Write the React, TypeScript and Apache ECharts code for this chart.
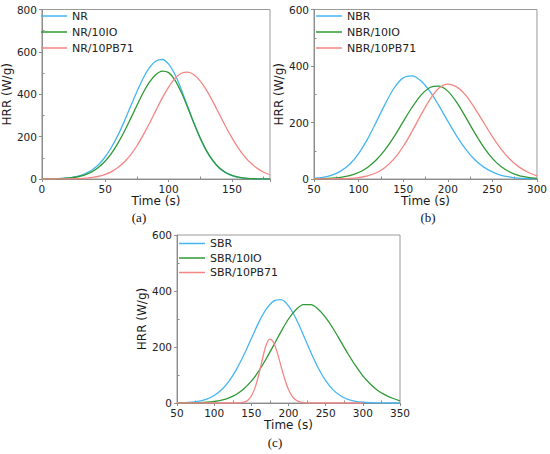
import React, { useEffect, useRef } from "react";
import * as echarts from "echarts";

// ---- data ----
const timeA = [0, 5, 10, 15, 20, 25, 30, 35, 40, 45, 50, 55, 60, 65, 70, 75, 80, 85, 90, 95, 100, 105, 110, 115, 120, 125, 130, 135, 140, 145, 150, 155, 160, 165, 170, 175, 180];
const nrHrr = [0, 0.6, 1.2, 2.5, 4.9, 9, 16, 28, 45, 70, 105, 151, 207, 272, 343, 413, 477, 527, 557, 564, 542, 493, 423, 343, 263, 190, 130, 84, 51, 30, 16, 8, 4, 2, 1, 0.5, 0];
const nr10IOHrr = [0.2, 0.5, 1, 2, 4, 7, 13, 22, 36, 57, 85, 122, 169, 224, 285, 348, 408, 458, 493, 509, 502, 467, 409, 338, 263, 193, 133, 87, 53, 31, 17, 9, 4, 2, 1, 0.5, 0];
const nr10PBHrr = [0, 0, 0.1, 0.3, 0.6, 1.1, 2.2, 4.1, 7.5, 13, 22, 35, 54, 80, 114, 157, 208, 264, 324, 383, 434, 475, 499, 504, 492, 462, 418, 364, 306, 248, 194, 146, 106, 74, 50, 32, 20];

const timeB = [50, 60, 70, 80, 90, 100, 110, 120, 130, 140, 150, 160, 170, 180, 190, 200, 210, 220, 230, 240, 250, 260, 270, 280, 290, 300];
const nbrHrr = [2.6, 6, 14, 28, 52, 90, 141, 203, 267, 323, 358, 365, 347, 310, 260, 205, 152, 106, 69, 43, 25, 13, 7, 3, 1.5, 0.6];
const nbr10IOHrr = [0.5, 1.2, 2.8, 6, 12, 23, 41, 68, 105, 151, 203, 254, 297, 324, 329, 311, 271, 219, 164, 114, 73, 43, 24, 12, 6, 2.5];
const nbr10PBHrr = [0, 0.1, 0.3, 0.8, 2, 5, 11, 22, 42, 72, 115, 169, 227, 282, 321, 336, 326, 297, 252, 201, 150, 105, 69, 42, 24, 11];

const timeC = [50, 60, 70, 80, 90, 100, 110, 120, 130, 140, 150, 160, 170, 180, 190, 200, 210, 220, 230, 240, 250, 260, 270, 280, 290, 300, 310, 320, 330, 340, 350];
const sbrHrr = [0.6, 1.4, 3.2, 7, 14, 27, 47, 78, 120, 172, 230, 288, 335, 364, 369, 347, 302, 243, 181, 125, 80, 47, 26, 13, 6, 2.7, 1, 0.4, 0, 0, 0];
const sbr10IOHrr = [0.1, 0.2, 0.6, 1.2, 2.6, 5.3, 10, 18, 31, 51, 78, 114, 158, 206, 255, 300, 333, 351, 351, 335, 305, 266, 221, 176, 134, 97, 68, 45, 29, 17, 8];
const timeCPB = [50, 100, 120, 125, 130, 135, 140, 145, 150, 155, 160, 165, 170, 175, 180, 185, 190, 195, 200, 205, 210, 215, 220, 225, 230, 240, 260, 300];
const sbr10PBHrr = [0, 0, 0, 0.05, 0.2, 0.8, 3, 9, 25, 55, 101, 158, 207, 228, 215, 179, 131, 85, 48, 24, 11, 4, 1.4, 0.4, 0.1, 0, 0, 0];

const legendA = ["NR", "NR/10IO", "NR/10PB71"];
const legendB = ["NBR", "NBR/10IO", "NBR/10PB71"];
const legendC = ["SBR", "SBR/10IO", "SBR/10PB71"];
const panelLabels = ["(a)", "(b)", "(c)"];

const BLUE = "#45b6f4";
const GREEN = "#2f9a35";
const RED = "#f58684";
const FONT = "DejaVu Sans";
const AXIS = "#8c8c8c";

const pairs = (xs: number[], ys: number[]) => xs.map((x, i) => [x, ys[i]]);

function xAxisOf(gridIndex: number, min: number, max: number) {
  return {
    type: "value",
    gridIndex,
    min,
    max,
    interval: 50,
    name: "Time (s)",
    nameLocation: "middle",
    nameGap: 13,
    nameTextStyle: { fontSize: 12, fontFamily: FONT, color: "#1a1a1a" },
    axisLine: { show: true, lineStyle: { color: AXIS, width: 1 } },
    axisTick: { show: true, length: 3, lineStyle: { color: AXIS } },
    minorTick: { show: true, splitNumber: 2, length: -2.5, lineStyle: { color: AXIS } },
    splitLine: { show: false },
    minorSplitLine: { show: false },
    axisLabel: {
      fontSize: 10.5,
      fontFamily: FONT,
      color: "#222",
      margin: 4,
      showMaxLabel: max % 50 === 0,
      formatter: (v: number) => (v % 50 === 0 ? String(v) : ""),
    },
  };
}

function yAxisOf(gridIndex: number, max: number) {
  return {
    type: "value",
    gridIndex,
    min: 0,
    max,
    interval: 200,
    name: "HRR (W/g)",
    nameLocation: "middle",
    nameGap: 21,
    nameTextStyle: { fontSize: 12, fontFamily: FONT, color: "#1a1a1a" },
    axisLine: { show: true, lineStyle: { color: AXIS, width: 1 } },
    axisTick: { show: true, length: 3, lineStyle: { color: AXIS } },
    minorTick: { show: true, splitNumber: 2, length: -2.5, lineStyle: { color: AXIS } },
    splitLine: { show: false },
    minorSplitLine: { show: false },
    axisLabel: { fontSize: 10.5, fontFamily: FONT, color: "#222", margin: 5 },
  };
}

function lineSeries(name: string, idx: number, data: number[][], color: string) {
  return {
    type: "line",
    name,
    xAxisIndex: idx,
    yAxisIndex: idx,
    data,
    smooth: 0.3,
    showSymbol: false,
    symbol: "none",
    lineStyle: { color, width: 1.3 },
    itemStyle: { color },
    z: 3,
  };
}

function legendOf(data: string[], left: number, top: number, gap: number) {
  return {
    data,
    left,
    top,
    orient: "vertical",
    icon: "rect",
    itemWidth: 26,
    itemHeight: 1.5,
    itemGap: gap,
    padding: 0,
    selectedMode: false,
    textStyle: { fontSize: 11, fontFamily: FONT, color: "#222", lineHeight: 12 },
  };
}

const gridBase = { show: true, borderColor: "#9a9a9a", borderWidth: 1, backgroundColor: "transparent" };

export default function App() {
  const ref = useRef<HTMLDivElement>(null);
  useEffect(() => {
    document.body.style.margin = "0";
    if (!ref.current) return;
    const chart = echarts.init(ref.current, null, { renderer: "svg" });
    chart.setOption({
      animation: false,
      backgroundColor: "#ffffff",
      grid: [
        { ...gridBase, left: 39, top: 9.5, width: 231, height: 169.5 },
        { ...gridBase, left: 314, top: 9.5, width: 224, height: 169.5 },
        { ...gridBase, left: 177, top: 235, width: 223, height: 168 },
      ],
      xAxis: [xAxisOf(0, 0, 180), xAxisOf(1, 50, 300), xAxisOf(2, 50, 350)],
      yAxis: [yAxisOf(0, 800), yAxisOf(1, 600), yAxisOf(2, 600)],
      legend: [
        legendOf(legendA, 41, 10, 4),
        legendOf(legendB, 316, 10, 4),
        legendOf(legendC, 179, 237.5, 2.5),
      ],
      series: [
        lineSeries(legendA[0], 0, pairs(timeA, nrHrr), BLUE),
        lineSeries(legendA[1], 0, pairs(timeA, nr10IOHrr), GREEN),
        lineSeries(legendA[2], 0, pairs(timeA, nr10PBHrr), RED),
        lineSeries(legendB[0], 1, pairs(timeB, nbrHrr), BLUE),
        lineSeries(legendB[1], 1, pairs(timeB, nbr10IOHrr), GREEN),
        lineSeries(legendB[2], 1, pairs(timeB, nbr10PBHrr), RED),
        lineSeries(legendC[0], 2, pairs(timeC, sbrHrr), BLUE),
        lineSeries(legendC[1], 2, pairs(timeC, sbr10IOHrr), GREEN),
        lineSeries(legendC[2], 2, pairs(timeCPB, sbr10PBHrr), RED),
      ],
      graphic: [
        { type: "text", x: 139, y: 217, style: { text: panelLabels[0], font: '13px "Liberation Serif"', fill: "#111", align: "center", verticalAlign: "middle" } },
        { type: "text", x: 428, y: 217, style: { text: panelLabels[1], font: '13px "Liberation Serif"', fill: "#111", align: "center", verticalAlign: "middle" } },
        { type: "text", x: 275, y: 442, style: { text: panelLabels[2], font: '13px "Liberation Serif"', fill: "#111", align: "center", verticalAlign: "middle" } },
      ],
    });
    return () => chart.dispose();
  }, []);
  return <div ref={ref} style={{ width: 550, height: 454 }} />;
}
